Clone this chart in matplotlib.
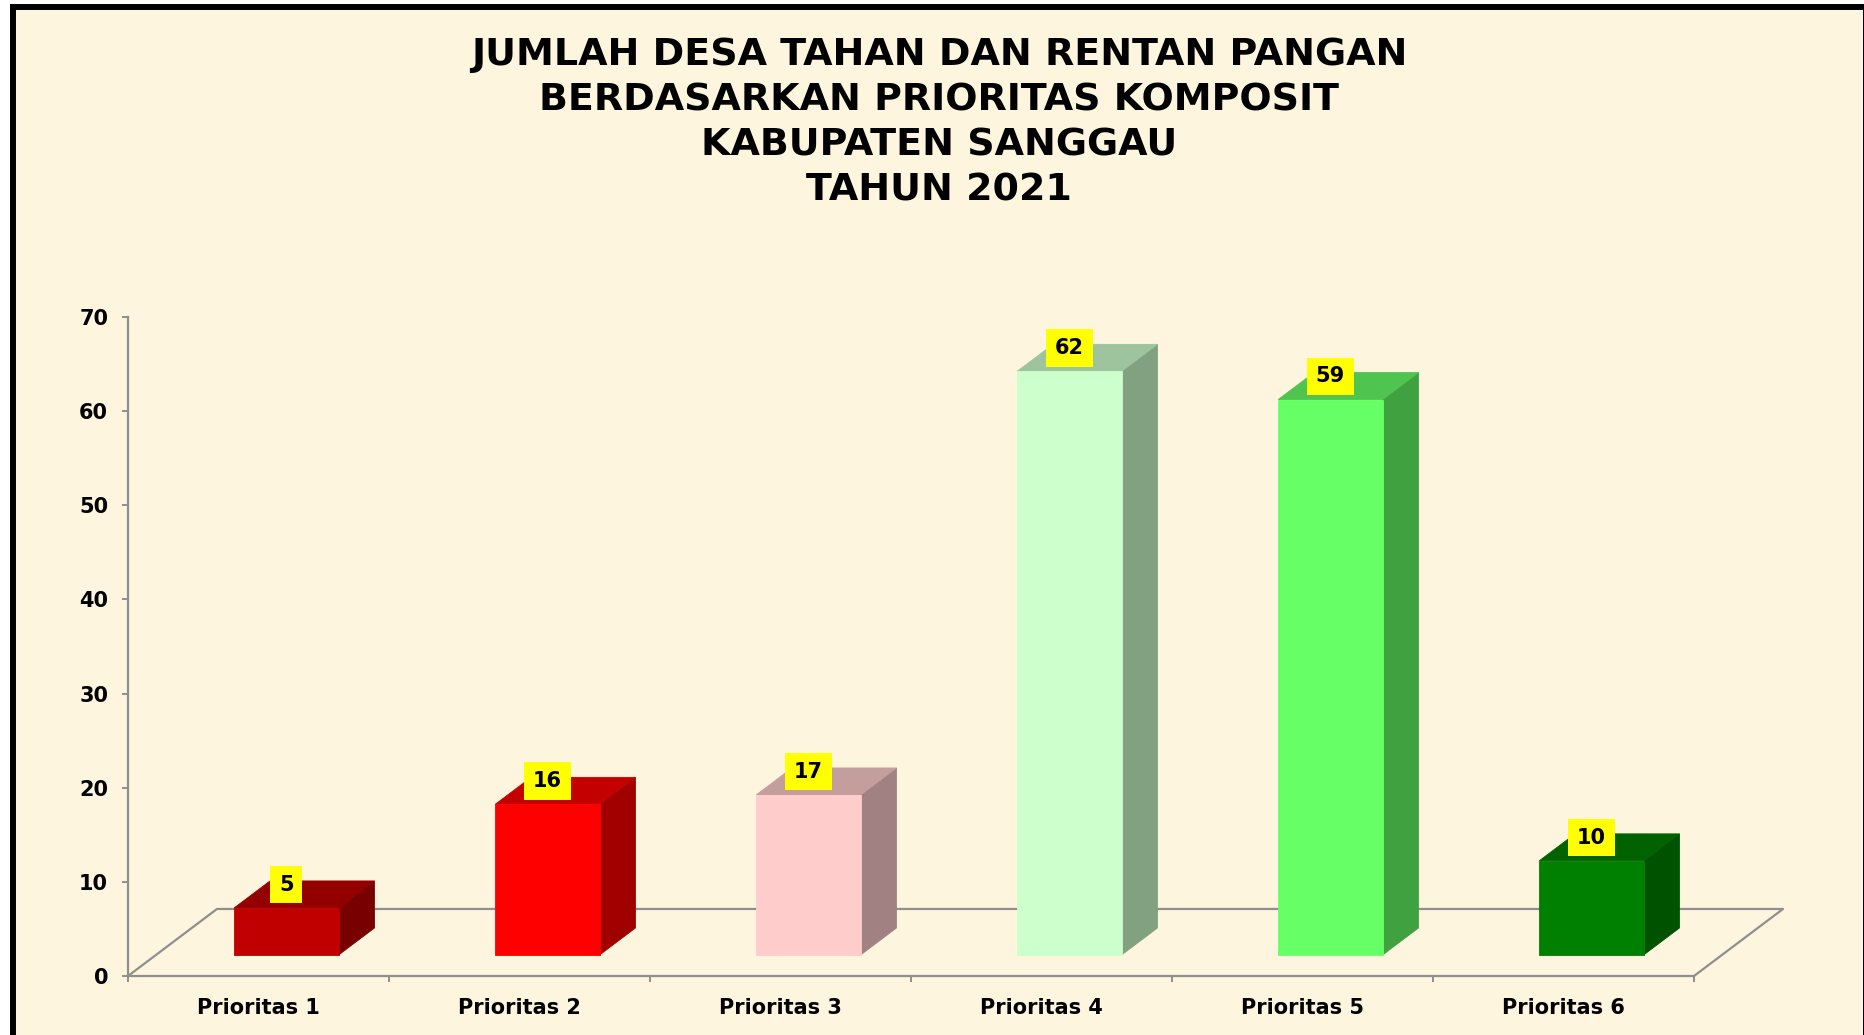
import numpy as np
import matplotlib.pyplot as plt
from matplotlib.patches import Polygon, Rectangle
from matplotlib.colors import to_rgb

# data
categories = ["Prioritas 1", "Prioritas 2", "Prioritas 3",
              "Prioritas 4", "Prioritas 5", "Prioritas 6"]
values = [5, 16, 17, 62, 59, 10]
bar_colors = ["#C00000", "#FF0000", "#FFCCCC", "#CCFFCC", "#66FF66", "#008000"]
yticks = [0, 10, 20, 30, 40, 50, 60, 70]
title_lines = ["JUMLAH DESA TAHAN DAN RENTAN PANGAN",
               "BERDASARKAN PRIORITAS KOMPOSIT",
               "KABUPATEN SANGGAU",
               "TAHUN 2021"]

# fake 3D look (floor depth in data units)
DX = 0.341     # depth offset along x (categories)
DY = 7.12      # depth offset along y (values)
FRONT = 0.313  # bar front, as fraction of floor depth
BACK = 0.716   # bar back
LABEL_D = 0.66
WIDTH = 0.40

BG = "#FEF5DF"
AXIS = "#8F8F8F"
W, H = 1864, 1035

def proj(x, y, d):
    return (x + d * DX, y + d * DY)

def shade(c, f):
    r, g, b = to_rgb(c)
    return (r * f, g * f, b * f)

fig = plt.figure(figsize=(W / 100, H / 100), dpi=100)
fig.patch.set_facecolor("white")
fig.add_artist(Rectangle((12.5 / W, -0.1), (1866 - 12.5) / W, 1.1 - 7 / H,
                         transform=fig.transFigure, facecolor=BG,
                         edgecolor="black", lw=4.3, zorder=0))

ax = fig.add_axes([128 / W, 59 / H, (1694 - 128) / W, (976 - 317) / H])
ax.patch.set_alpha(0)
ax.set_xlim(0, len(categories))
ax.set_ylim(0, 70)

for s in ["top", "right"]:
    ax.spines[s].set_visible(False)
for s in ["left", "bottom"]:
    ax.spines[s].set_color(AXIS)
    ax.spines[s].set_linewidth(1.6)

# floor outline
n = len(categories)
fx = [0, DX, n + DX, n]
fy = [0, DY, DY, 0]
ax.plot(fx, fy, color=AXIS, lw=1.6, clip_on=False, zorder=1)

for i, (v, c) in enumerate(zip(values, bar_colors)):
    x0 = i + 0.5 - WIDTH / 2
    x1 = i + 0.5 + WIDTH / 2
    front = [proj(x0, 0, FRONT), proj(x1, 0, FRONT), proj(x1, v, FRONT), proj(x0, v, FRONT)]
    top = [proj(x0, v, FRONT), proj(x1, v, FRONT), proj(x1, v, BACK), proj(x0, v, BACK)]
    side = [proj(x1, 0, FRONT), proj(x1, 0, BACK), proj(x1, v, BACK), proj(x1, v, FRONT)]
    for pts, col in [(side, shade(c, 0.63)), (top, shade(c, 0.77)), (front, to_rgb(c))]:
        ax.add_patch(Polygon(pts, closed=True, facecolor=col, edgecolor=col,
                             lw=0.6, clip_on=False, zorder=3))
    lx, _ = proj(i + 0.5, v, FRONT)
    _, ly = proj(i + 0.5, v, LABEL_D)
    ax.text(lx, ly, str(v), ha="center", va="center", fontsize=15,
            fontweight="bold", zorder=5, clip_on=False,
            bbox=dict(boxstyle="square,pad=0.42", facecolor="yellow", edgecolor="none"))

ax.set_yticks(yticks)
ax.set_yticklabels([str(t) for t in yticks], fontsize=15, fontweight="bold")
ax.tick_params(axis="y", direction="out", length=4.3, width=1.4, color=AXIS, pad=10)

ax.set_xticks(np.arange(n) + 0.5)
ax.set_xticklabels(categories, fontsize=15, fontweight="bold")
ax.set_xticks(np.arange(n + 1), minor=True)
ax.tick_params(axis="x", which="major", length=0, pad=16)
ax.tick_params(axis="x", which="minor", direction="out", length=4.3, width=1.4, color=AXIS)

for k, line in enumerate(title_lines):
    fig.text(939 / W, 1 - (65 + 45.2 * k) / H, line, ha="center", va="baseline",
             fontsize=27.4, fontweight="bold")

fig.savefig("out.png", dpi=100, facecolor=fig.get_facecolor())
